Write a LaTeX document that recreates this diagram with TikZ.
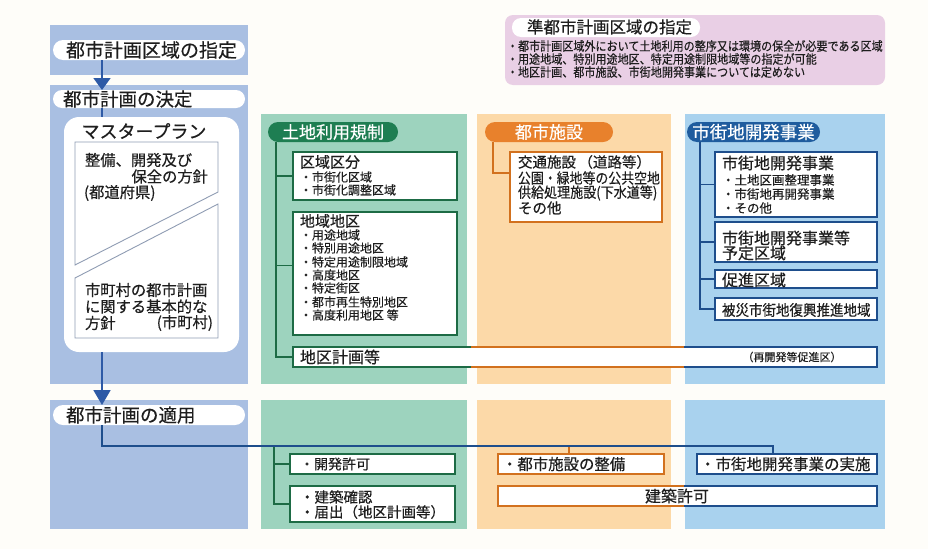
\documentclass[tikz,border=0pt]{standalone}
\usepackage{fontspec}
\setmainfont{Noto Sans CJK JP}[FakeBold=0.4]
\usetikzlibrary{arrows.meta}
\definecolor{bg}{HTML}{FEFDF9}
\definecolor{lpanel}{HTML}{A9BFE2}
\definecolor{gpanel}{HTML}{9DD3BE}
\definecolor{opanel}{HTML}{FCD9A8}
\definecolor{bpanel}{HTML}{A9D2EE}
\definecolor{pinkp}{HTML}{E9CFE5}
\definecolor{gdark}{HTML}{1D6B45}
\definecolor{gtab}{HTML}{1E7E52}
\definecolor{odark}{HTML}{D2711E}
\definecolor{otab}{HTML}{E8812C}
\definecolor{bdark}{HTML}{1E4E8C}
\definecolor{btab}{HTML}{1F5C9E}
\definecolor{ablue}{HTML}{2E5AA6}
\definecolor{grayb}{HTML}{8F9CB3}
\definecolor{txtc}{HTML}{1E1E1E}
\newcommand\fs[1]{\fontsize{#1pt}{#1pt}\selectfont}
\newcommand\sx[2]{\scalebox{#1}[1]{#2}}
\newcommand\rn[7]{\node[#1,anchor=north west,inner sep=0pt,outer sep=0pt,minimum width={(#5-#3)*1pt},minimum height={(#6-#4)*1pt}] (#2) at (#3,#4) {#7};}
\begin{document}
\begin{tikzpicture}[x=1pt,y=-1pt,
  tx/.style={inner sep=0pt,outer sep=0pt,text=txtc},
  lt/.style={tx,anchor=west},
  wpill/.style={fill=white,rounded corners=10pt},
  tab/.style={rounded corners=10pt,text=white},
  gbox/.style={draw=gdark,line width=1.4pt,fill=white},
  obox/.style={draw=odark,line width=1.4pt,fill=white},
  bbox/.style={draw=bdark,line width=1.4pt,fill=white},
  gline/.style={draw=gdark,line width=1.4pt},
  oline/.style={draw=odark,line width=1.4pt},
  bline/.style={draw=bdark,line width=1.4pt},
  aline/.style={draw=ablue,line width=1.8pt,fill=ablue},
  mpb/.style={draw=grayb,line width=0.9pt,fill=white}]
\path[use as bounding box,fill=bg] (0,0) rectangle (928,549);

% panels
\rn{fill=lpanel}{lp1}{50}{25}{248}{75}{}
\rn{fill=lpanel}{lp2}{50}{85}{248}{384}{}
\rn{fill=lpanel}{lp3}{50}{400}{248}{529}{}
\rn{fill=gpanel}{gp1}{261}{114}{467}{384}{}
\rn{fill=gpanel}{gp2}{261}{400}{467}{529}{}
\rn{fill=opanel}{op1}{477}{114}{671}{384}{}
\rn{fill=opanel}{op2}{477}{400}{671}{529}{}
\rn{fill=bpanel}{bp1}{685}{114}{885}{384}{}
\rn{fill=bpanel}{bp2}{685}{400}{885}{529}{}

% pink box
\rn{fill=pinkp,rounded corners=8pt}{pk}{505}{15}{885}{85}{}
\rn{wpill,rounded corners=9pt}{pkp}{512}{18}{700}{37}{}
\node[lt,font=\fs{16.5}] (pkt) at (527,27) {準都市計画区域の指定};
\node[lt,font=\fs{12.5}] (pk1) at (507,46) {\sx{0.885}{・都市計画区域外において土地利用の整序又は環境の保全が必要である区域}};
\node[lt,font=\fs{12.5}] (pk2) at (507,59) {\sx{0.885}{・用途地域、特別用途地区、特定用途制限地域等の指定が可能}};
\node[lt,font=\fs{12.5}] (pk3) at (507,72) {\sx{0.885}{・地区計画、都市施設、市街地開発事業については定めない}};

% left column
\coordinate (ax) at (102,0);
\rn{wpill}{p1}{53}{40}{245}{60}{}
\rn{wpill,rounded corners=9pt}{p2}{53}{90}{245}{108}{}
\rn{wpill}{p3}{53}{405}{245}{425}{}
\rn{fill=white,rounded corners=15pt}{mp}{64}{117}{239}{352}{}
\draw[aline,-{Triangle[width=17pt,length=12pt]}] (p1.south -| ax) -- (p2.north -| ax);
\draw[aline] (p2.south -| ax) -- (mp.north -| ax);
\draw[aline,-{Triangle[width=17pt,length=15pt]}] (mp.south -| ax) -- (p3.north -| ax);
\node[lt,font=\fs{19}] (p1t) at (66,50) {都市計画区域の指定};
\node[lt,font=\fs{18.5}] (p2t) at (63,99) {都市計画の決定};
\node[lt,font=\fs{18.5}] (p3t) at (66,415) {都市計画の適用};

\node[tx,font=\fs{18}] (mpt) at (144,131) {マスタープラン};
\draw[mpb] (75,142) -- (218,142) -- (218,192) -- (75,265) -- cycle;
\draw[mpb] (75,278) -- (218,204) -- (218,338) -- (75,338) -- cycle;
\node[lt,font=\fs{15.3}] (m1) at (85,160) {整備、開発及び};
\node[tx,anchor=east,font=\fs{15.3}] (m2) at (208,176.5) {保全の方針};
\node[lt,font=\fs{15.3}] (m3) at (84,193) {(都道府県)};
\node[lt,font=\fs{15.3}] (m4) at (85,290) {市町村の都市計画};
\node[lt,font=\fs{15.3}] (m5) at (85,306.5) {に関する基本的な};
\node[lt,font=\fs{15.3}] (m6) at (85,323) {方針};
\node[tx,anchor=east,font=\fs{15.3}] (m7) at (213,323) {(市町村)};

% green column
\coordinate (gx) at (276,0);
\rn{tab,fill=gtab}{gpl}{268}{122}{398}{142}{\fs{17}土地利用規制}
\rn{gbox}{GA}{293}{152}{457}{200}{}
\rn{gbox}{GW}{293}{212}{457}{335}{}
\rn{fill=white}{LL}{293}{347}{877}{367}{}
\draw[gline] (gpl.south -| gx) |- (LL.west);
\draw[gline] (gx |- GA.west) -- (GA.west);
\draw[gline] ([yshift=8pt]GW.west -| gx) -- ([yshift=8pt]GW.west);
\node[lt,font=\fs{15}] (ga0) at (300,162) {区域区分};
\node[lt,font=\fs{12}] (ga1) at (300,177) {・市街化区域};
\node[lt,font=\fs{12}] (ga2) at (300,190) {・市街化調整区域};
\node[lt,font=\fs{15}] (gw0) at (300,221) {地域地区};
\node[lt,font=\fs{12}] (gw1) at (300,235) {・用途地域};
\node[lt,font=\fs{12}] (gw2) at (300,248) {・特別用途地区};
\node[lt,font=\fs{12}] (gw3) at (300,262) {・特定用途制限地域};
\node[lt,font=\fs{12}] (gw4) at (300,275) {・高度地区};
\node[lt,font=\fs{12}] (gw5) at (300,288) {・特定街区};
\node[lt,font=\fs{12}] (gw6) at (300,302) {・都市再生特別地区};
\node[lt,font=\fs{12}] (gw7) at (300,315) {・高度利用地区 等};

% long box borders
\coordinate (sGO) at (471,0);
\coordinate (sOB) at (684,0);
\draw[gline] (LL.north west -| sGO) -- (LL.north west) -- (LL.south west) -- (LL.south west -| sGO);
\draw[oline] (LL.north west -| sGO) -- (LL.north west -| sOB);
\draw[oline] (LL.south west -| sGO) -- (LL.south west -| sOB);
\draw[bline] (LL.north west -| sOB) -- (LL.north east) -- (LL.south east) -- (LL.south west -| sOB);
\node[lt,font=\fs{16}] (LLt) at (300,357) {地区計画等};
\node[tx,font=\fs{11}] (LLr) at (792,357) {（再開発等促進区）};

% orange column
\coordinate (ox) at (493,0);
\rn{tab,fill=otab}{opl}{485}{122}{613}{142}{\fs{17}都市施設}
\rn{obox}{OB}{510}{152}{662}{222}{}
\draw[oline] (opl.south -| ox) |- ([yshift=14pt]OB.west);
\node[lt,font=\fs{14.5}] (ob1) at (518,162) {交通施設\,（道路等）};
\node[lt,font=\fs{14.5}] (ob2) at (518,178) {\sx{0.89}{公園・緑地等の公共空地}};
\node[lt,font=\fs{14.5}] (ob3) at (518,193) {\sx{0.9}{供給処理施設(下水道等)}};
\node[lt,font=\fs{14.5}] (ob4) at (518,208) {その他};

% blue column
\coordinate (bx) at (700,0);
\rn{tab,fill=btab}{bpl}{687}{122}{820}{142}{\fs{17.5}市街地開発事業}
\rn{bbox}{BA}{715}{152}{877}{217}{}
\rn{bbox}{BB}{715}{222}{877}{262}{}
\rn{bbox}{BC}{715}{270}{877}{288}{}
\rn{bbox}{BD}{715}{298}{877}{320}{}
\draw[bline] (bpl.south -| bx) |- (BD.west);
\draw[bline] (bx |- BA.west) -- (BA.west);
\draw[bline] (bx |- BB.west) -- (BB.west);
\draw[bline] (bx |- BC.west) -- (BC.west);
\node[lt,font=\fs{16}] (ba0) at (722,163) {市街地開発事業};
\node[lt,font=\fs{12.5}] (ba1) at (722,180) {・土地区画整理事業};
\node[lt,font=\fs{12.5}] (ba2) at (722,194) {・市街地再開発事業};
\node[lt,font=\fs{12.5}] (ba3) at (722,208) {・その他};
\node[lt,font=\fs{16}] (bb1) at (722,238) {市街地開発事業等};
\node[lt,font=\fs{16}] (bb2) at (722,253) {予定区域};
\node[lt,font=\fs{16}] (bc1) at (722,280) {促進区域};
\node[lt,font=\fs{15}] (bd1) at (722,310) {\sx{0.9}{被災市街地復興推進地域}};

% bottom row
\coordinate (j1) at (274,446);
\coordinate (j2) at (569,446);
\coordinate (j3) at (773,446);
\rn{gbox}{G1}{290}{454}{455}{474}{}
\rn{gbox}{G2}{290}{486}{455}{522}{}
\rn{obox}{O1}{498}{454}{664}{474}{}
\rn{bbox}{B1}{697}{454}{877}{474}{}
\rn{fill=white}{K}{498}{486}{877}{506}{}
\draw[oline] (K.north west -| sOB) -- (K.north west) -- (K.south west) -- (K.south west -| sOB);
\draw[bline] (K.north west -| sOB) -- (K.north east) -- (K.south east) -- (K.south west -| sOB);
\draw[gline] (j1) -- (j1 |- G2.west) -- (G2.west);
\draw[gline] (j1 |- G1.west) -- (G1.west);
\draw[oline] (j2) -- (O1.north -| j2);
\draw[bline,line width=1.8pt] (p3.south -| ax) |- (j3) -- (B1.north -| j3);
\node[lt,font=\fs{14}] (g1t) at (300,464) {・開発許可};
\node[lt,font=\fs{14.5}] (g2a) at (300,497) {・建築確認};
\node[lt,font=\fs{14.5}] (g2b) at (300,512) {・届出（地区計画等）};
\node[lt,font=\fs{15.4}] (o1t) at (502,464) {・都市施設の整備};
\node[lt,font=\fs{15.5}] (b1t) at (700,464) {・市街地開発事業の実施};
\node[tx,font=\fs{16}] (kt) at (677,496) {建築許可};
\end{tikzpicture}
\end{document}
